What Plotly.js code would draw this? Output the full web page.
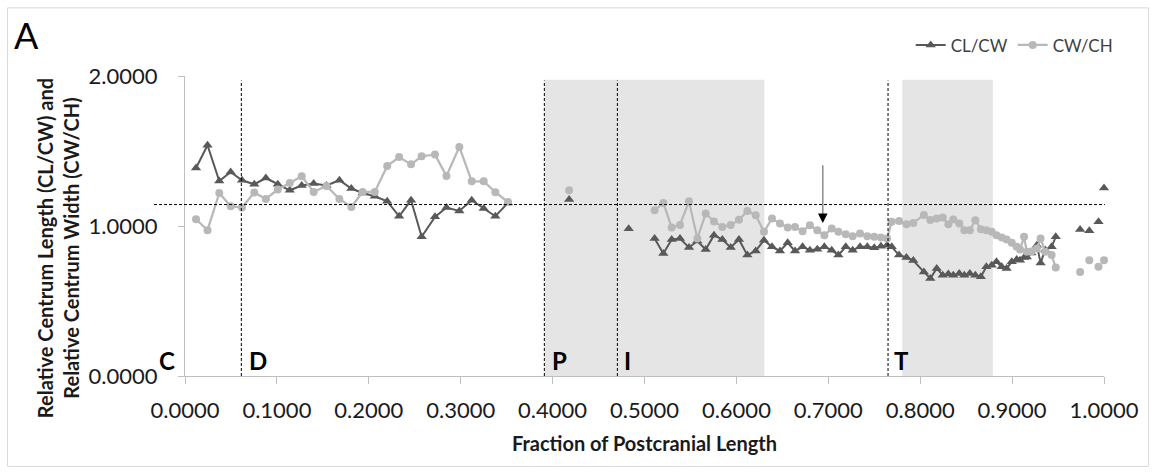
<!DOCTYPE html>
<html>
<head>
<meta charset="utf-8">
<script src="https://cdn.plot.ly/plotly-3.0.1.min.js"></script>
<style>
  html, body { margin: 0; padding: 0; background: #ffffff; }
  #chart { width: 1156px; height: 474px; }
</style>
</head>
<body>
<div id="chart"></div>
<script>
// Fraction of postcranial length (shared x positions); null = break in the series
const fraction = [
  0.012, 0.0245, 0.0373, 0.0497, 0.062, 0.0754, 0.088, 0.101, 0.114, 0.127,
  0.140, 0.154, 0.168, 0.181, 0.1933, 0.2065, 0.220, 0.233, 0.246, 0.2575,
  0.272, 0.2845, 0.2985, 0.312, 0.325, 0.3377, 0.3515,
  null, 0.418, null, 0.4828, null,
  0.511, 0.5205, 0.5296, 0.5386, 0.5484, 0.5575, 0.5666, 0.5756, 0.5847, 0.5938,
  0.6028, 0.6119, 0.621, 0.630, 0.6387, 0.6474, 0.6558, 0.6638, 0.672, 0.680,
  0.688, 0.6957, 0.7037, 0.711, 0.719, 0.7265, 0.7345, 0.7424, 0.750, 0.7573,
  0.764, 0.769, 0.777, 0.785, 0.7925, 0.804, 0.811, 0.818, 0.8245, 0.8306,
  0.836, 0.8425, 0.848, 0.854, 0.860, 0.866, 0.872, 0.8778, 0.883, 0.8887,
  0.894, 0.8996, 0.905, 0.9086, 0.913, 0.916, 0.921, 0.927, 0.931, 0.936,
  0.943, 0.9475,
  null, 0.974, null, 0.984, null, 0.994, null, 1.0
];

// CL/CW : relative centrum length
const clcw = [
  1.387, 1.538, 1.300, 1.360, 1.305, 1.278, 1.320, 1.278, 1.238, 1.270,
  1.283, 1.270, 1.305, 1.250, 1.220, 1.198, 1.165, 1.065, 1.172, 0.928,
  1.061, 1.123, 1.100, 1.172, 1.116, 1.065, 1.154,
  null, 1.176, null, 0.981, null,
  0.917, 0.817, 0.910, 0.917, 0.857, 0.900, 0.843, 0.939, 0.910, 0.857,
  0.910, 0.806, 0.834, 0.905, 0.861, 0.834, 0.888, 0.834, 0.861, 0.839,
  0.845, 0.861, 0.839, 0.806, 0.861, 0.839, 0.861, 0.861, 0.855, 0.865,
  0.872, 0.861, 0.806, 0.790, 0.770, 0.694, 0.650, 0.717, 0.672, 0.680,
  0.672, 0.683, 0.672, 0.683, 0.672, 0.661, 0.728, 0.739, 0.761, 0.728,
  0.717, 0.761, 0.777, 0.772, 0.790, 0.794, 0.820, 0.872, 0.754, 0.840,
  0.861, 0.928,
  null, 0.977, null, 0.968, null, 1.028, null, 1.254
];

// CW/CH : relative centrum width
const cwch = [
  1.045, 0.972, 1.220, 1.132, 1.123, 1.223, 1.180, 1.243, 1.287, 1.332,
  1.227, 1.267, 1.180, 1.127, 1.227, 1.227, 1.400, 1.460, 1.411, 1.465,
  1.476, 1.334, 1.527, 1.298, 1.298, 1.225, 1.160,
  null, 1.238, null, null, null,
  1.105, 1.154, 0.990, 1.007, 1.165, 0.917, 1.083, 1.030, 0.994, 1.007,
  1.041, 1.100, 1.072, 0.961, 1.050, 1.016, 0.990, 0.994, 0.965, 1.005,
  0.972, 0.939, 0.983, 0.961, 0.945, 0.932, 0.950, 0.932, 0.928, 0.923,
  0.917, 1.028, 1.034, 1.012, 1.020, 1.074, 1.040, 1.050, 1.057, 1.012,
  1.043, 1.016, 0.972, 0.972, 1.039, 0.979, 0.972, 0.961, 0.939, 0.923,
  0.910, 0.888, 0.861, 0.843, 0.928, 0.828, 0.830, 0.850, 0.917, 0.828,
  0.806, 0.723,
  null, 0.694, null, 0.772, null, 0.728, null, 0.772
];

// Region boundaries and labels
const regionLines = [0.0613, 0.391, 0.4705, 0.765];
const shadedRegions = [[0.391, 0.6304], [0.7805, 0.879]];
const regionLabels = ['C', 'D', 'P', 'I', 'T'];
const regionLabelX = [-0.0201, 0.0794, 0.4077, 0.482, 0.7797];
const regionLabelY = 0.1065;
const referenceLevel = 1.143;
const arrowX = 0.694;
const arrowFrom = 1.405;
const arrowTo = 1.02;
const seriesNames = ['CL/CW', 'CW/CH'];
const yTitleLines = ['Relative Centrum Length (CL/CW) and', 'Relative Centrum Width (CW/CH)'];
const xTitle = 'Fraction of Postcranial Length';

const dark = '#595959';
const light = '#b8b8b8';
const FONT = 'Lato, "Open Sans", sans-serif';
const Y_MAX = 2;

const traces = [
  {
    x: fraction, y: clcw, name: seriesNames[0], type: 'scatter', mode: 'lines+markers',
    connectgaps: false, cliponaxis: false,
    line: { color: dark, width: 2 },
    marker: { symbol: 'triangle-up', size: 9, color: dark }
  },
  {
    x: fraction, y: cwch, name: seriesNames[1], type: 'scatter', mode: 'lines+markers',
    connectgaps: false, cliponaxis: false,
    line: { color: light, width: 2.25 },
    marker: { symbol: 'circle', size: 8, color: light }
  }
];

const shapes = [];
shadedRegions.forEach(r => shapes.push({
  type: 'rect', xref: 'x', yref: 'y', x0: r[0], x1: r[1], y0: 0, y1: 1.975,
  fillcolor: '#e5e5e5', line: { width: 0 }, layer: 'below'
}));
regionLines.forEach(v => shapes.push({
  type: 'line', xref: 'x', yref: 'y', x0: v, x1: v, y0: 0, y1: 1.97,
  line: { color: '#000000', width: 1, dash: '3px,2px' }, layer: 'above'
}));
// horizontal reference line (extends slightly left of the axis)
shapes.push({
  type: 'line', xref: 'paper', yref: 'y', x0: -0.0337, x1: 1.001, y0: referenceLevel, y1: referenceLevel,
  line: { color: '#000000', width: 1, dash: '3px,2px' }, layer: 'above'
});
// arrow stem
shapes.push({
  type: 'line', xref: 'x', yref: 'y', x0: arrowX, x1: arrowX, y0: arrowFrom, y1: 1.07,
  line: { color: '#8c8c8c', width: 1.5 }, layer: 'above'
});
// outer frame
shapes.push({
  type: 'rect', xref: 'paper', yref: 'paper', x0: -0.1931, x1: 1.0484, y0: -0.3014, y1: 1.2271,
  line: { color: '#d9d9d9', width: 1 }, fillcolor: 'rgba(0,0,0,0)', layer: 'below'
});

// region letters (paper refs so the "C" left of the axis is still drawn)
const annotations = regionLabels.map((t, i) => ({
  text: '<b>' + t + '</b>', x: regionLabelX[i], y: regionLabelY / Y_MAX, xref: 'paper', yref: 'paper',
  showarrow: false, font: { family: FONT, size: 24, color: '#000000' },
  xanchor: 'center', yanchor: 'middle'
}));
annotations.push({
  x: arrowX, y: arrowTo, ax: arrowX, ay: 1.075, xref: 'x', yref: 'y', axref: 'x', ayref: 'y',
  text: '', showarrow: true, arrowhead: 2, arrowsize: 1.6, arrowwidth: 1.2, arrowcolor: '#000000'
});
annotations.push({
  text: 'A', xref: 'paper', yref: 'paper', x: (12 - 185) / 919, y: (376 - 35) / 300.3,
  xanchor: 'left', yanchor: 'middle', showarrow: false,
  font: { family: FONT, size: 36, color: '#000000' }
});
// y-axis title (placed like the original, slightly below the plot centre)
annotations.push({
  text: '<b>' + yTitleLines.join('<br>') + '</b>', xref: 'paper', yref: 'paper',
  x: (58 - 185) / 919, y: (376 - 248) / 300.3, xanchor: 'center', yanchor: 'middle',
  textangle: -90, showarrow: false,
  font: { family: FONT, size: 20, color: '#1a1a1a' }
});

const layout = {
  width: 1156, height: 474,
  margin: { l: 185, r: 52, t: 76, b: 98 },
  paper_bgcolor: '#ffffff', plot_bgcolor: 'rgba(0,0,0,0)',
  font: { family: FONT, color: '#1a1a1a' },
  showlegend: true,
  legend: {
    orientation: 'h', x: 1.016, xanchor: 'right', y: 1.102, yanchor: 'middle',
    font: { family: FONT, size: 17, color: '#404040' }, bgcolor: 'rgba(0,0,0,0)',
    itemwidth: 30, tracegroupgap: 0
  },
  xaxis: {
    range: [0, 1], dtick: 0.1, tick0: 0, tickformat: '.4f',
    showgrid: false, zeroline: false, showline: true, linecolor: '#bfbfbf', linewidth: 1,
    ticks: 'outside', ticklen: 7, tickcolor: '#bfbfbf', tickwidth: 1,
    tickfont: { family: FONT, size: 22, color: '#1a1a1a' }, ticklabelstandoff: 8,
    title: { text: '<b>' + xTitle + '</b>', font: { family: FONT, size: 20, color: '#1a1a1a' }, standoff: 14 }
  },
  yaxis: {
    range: [0, Y_MAX], dtick: 1, tick0: 0, tickformat: '.4f',
    showgrid: false, zeroline: false, showline: true, linecolor: '#bfbfbf', linewidth: 1,
    ticks: 'outside', ticklen: 6, tickcolor: '#bfbfbf', tickwidth: 1,
    tickfont: { family: FONT, size: 22, color: '#1a1a1a' }, ticklabelstandoff: 16
  },
  shapes: shapes,
  annotations: annotations
};

Plotly.newPlot('chart', traces, layout, { displayModeBar: false, staticPlot: true });
</script>
</body>
</html>
